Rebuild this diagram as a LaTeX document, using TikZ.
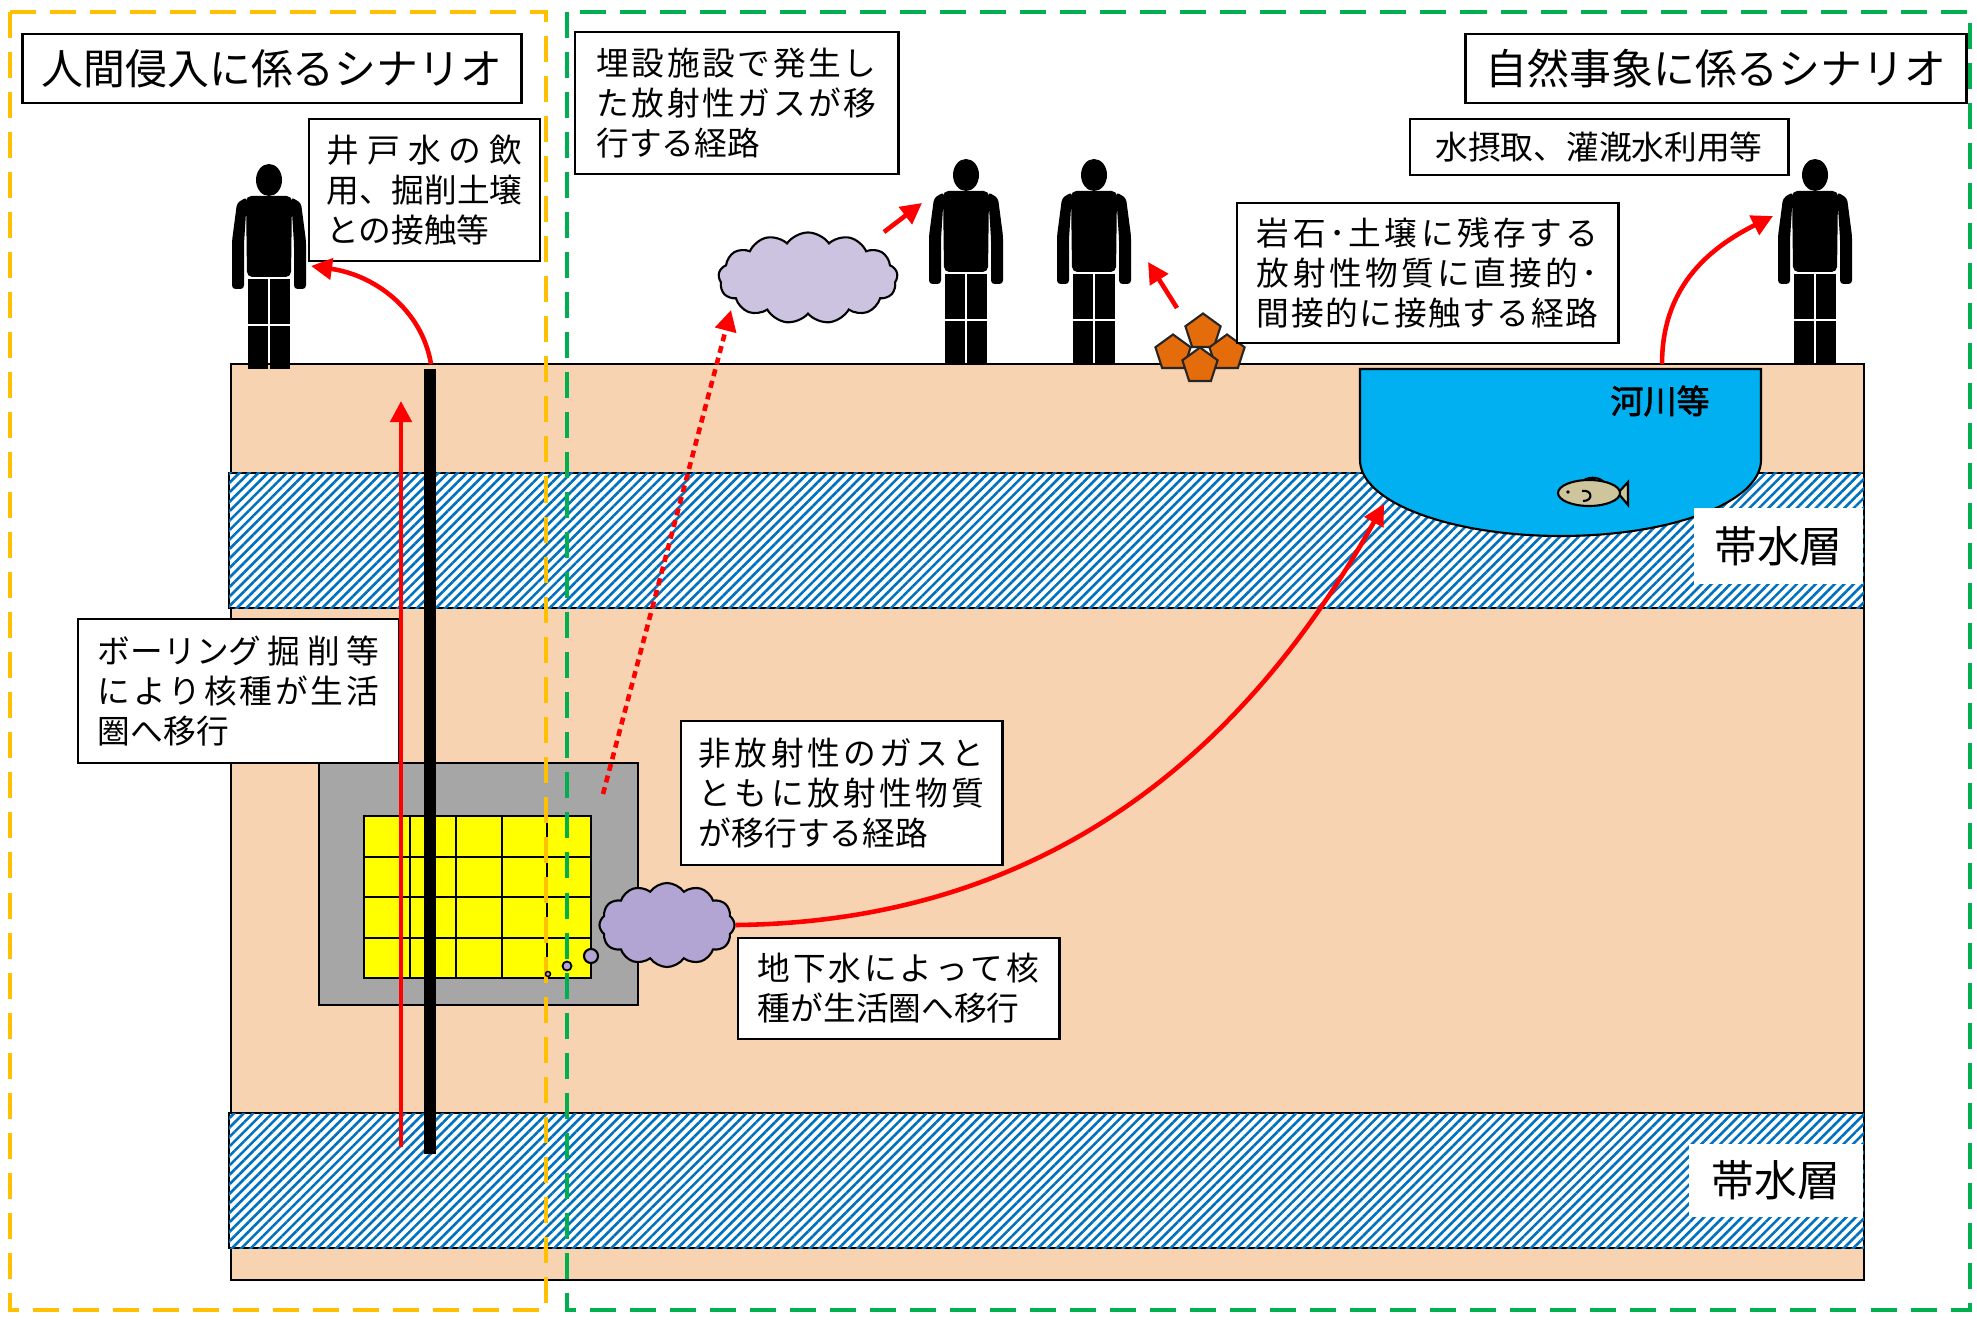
\documentclass[tikz,border=0pt]{standalone}
\usepackage{fontspec}
\newfontfamily\jp[AutoFakeBold=2]{Noto Sans CJK JP}
\usetikzlibrary{arrows.meta,shapes.geometric,shapes.symbols,patterns.meta}

\definecolor{soil}{HTML}{F8D3B2}
\definecolor{aquablue}{HTML}{0070C0}
\definecolor{river}{HTML}{00B0F0}
\definecolor{waste}{HTML}{A6A6A6}
\definecolor{cell}{HTML}{FFFF00}
\definecolor{humanzone}{HTML}{FFC000}
\definecolor{naturezone}{HTML}{00B050}
\definecolor{gaslight}{HTML}{CCC3E0}
\definecolor{gasdark}{HTML}{B3A5D3}
\definecolor{rock}{HTML}{E46C0A}
\definecolor{fishskin}{HTML}{CFC59C}

% spread the characters of one line over the whole text width
\makeatletter
\def\spread@#1#2\@nil{#1\ifx\relax#2\relax\else\hfil\spread@#2\@nil\fi}
\newcommand{\spaced}[1]{\makebox[\hsize][s]{\spread@#1\@nil}}
\makeatother

\tikzset{
	person/.pic={
		\fill (0,-189) ellipse [x radius=13, y radius=16];
		\fill[rounded corners=1.5pt] (-23,-173) -- (23,-173) -- (22,-92) -- (-22,-92) -- cycle;
		\fill[rounded corners=1pt] (-22,-172) -- (-32,-166) -- (-37,-128) -- (-37,-80) -- (-25,-80) -- (-25,-125) -- cycle;
		\fill[rounded corners=1pt] (22,-172) -- (32,-166) -- (37,-128) -- (37,-80) -- (25,-80) -- (25,-125) -- cycle;
		\fill (-21,-90) rectangle (-1,0);
		\fill (1,-90) rectangle (21,0);
		\draw[white, line width=0.4pt] (-21,-91) -- (21,-91) (-21,-44) -- (21,-44);
	}
}

\begin{document}
\begin{tikzpicture}[x=0.01cm, y=-0.01cm, font=\jp,
	tag/.style={draw, line width=0.8pt, fill=white, inner sep=0pt, align=left, font=\jp\fontsize{9.3}{11.4}\selectfont},
	heading/.style={draw, line width=0.8pt, fill=white, inner sep=0pt, font=\jp\fontsize{11.9}{14}\selectfont},
	layername/.style={fill=white, inner sep=0pt, font=\jp\fontsize{12.2}{14}\selectfont},
	route/.style={red, line width=1.3pt, -{Triangle[length=0.21cm, width=0.21cm]}},
	zone/.style={line width=0.045cm, dash pattern=on 0.26cm off 0.14cm},
	stone/.style={regular polygon, regular polygon sides=5, minimum size=0.37cm, inner sep=0pt, fill=rock, draw=black!85, line width=0.6pt},
	gascloud/.style={cloud, cloud puffs=13, cloud puff arc=110, cloud ignores aspect, draw, line width=0.6pt, inner sep=0pt}]
	\useasboundingbox (0,0) rectangle (1977,1319);
	\fill[white] (0,0) rectangle (1977,1319);

	% ground and the two aquifers
	\draw[fill=soil, line width=0.6pt] (231,364) rectangle (1864,1280);
	\foreach \lay in {473,1113}{
		\draw[fill=white, line width=0.6pt] (229,\lay) rectangle (1864,\lay+135);
		\fill[pattern={Lines[angle=45, distance=0.067cm, line width=0.026cm]}, pattern color=aquablue] (229,\lay) rectangle (1864,\lay+135);
	}

	% river with a fish
	\draw[fill=river, line width=0.6pt] (1360,369) -- (1360,460) .. controls (1360,502) and (1450,536) .. (1561,536)
		.. controls (1672,536) and (1761,502) .. (1761,460) -- (1761,369) -- cycle;
	\node[font=\jp\fontsize{9.4}{11}\selectfont\bfseries] (riverlabel) at (1660,401) {河川等};
	\begin{scope}[shift={(1589,493)}, line width=0.6pt]
		\draw[fill=fishskin] (-7,-10) .. controls (-5,-17) and (12,-17) .. (15,-10);
		\draw[fill=fishskin] (29,0) -- (39,-11) -- (39,12) -- cycle;
		\draw[fill=fishskin] (0,0) ellipse [x radius=31, y radius=13];
		\fill (-21,-1) circle [radius=1.8];
		\draw (-7,-2) .. controls (3,-4) and (5,8) .. (-6,8);
	\end{scope}
	\node[layername, minimum width=1.69cm, minimum height=0.76cm] (aquifer1) at (1778.5,546) {帯水層};
	\node[layername, minimum width=1.74cm, minimum height=0.73cm] (aquifer2) at (1776,1180.5) {帯水層};

	% disposal facility
	\draw[fill=waste, line width=0.6pt] (319,763) rectangle (638,1005);
	\draw[fill=cell, line width=0.8pt] (364,816) rectangle (591,978);
	\foreach \x in {410,456,502,547}
		\draw[line width=0.8pt] (\x,816) -- (\x,978);
	\foreach \y in {857,897,938}
		\draw[line width=0.8pt] (364,\y) -- (591,\y);

	% borehole
	\draw[line width=0.12cm] (430,369) -- (430,1154);

	% scenario frames
	\draw[zone, humanzone] (10,12) rectangle (546,1310);
	\draw[zone, naturezone] (567,12) rectangle (1970,1310);

	% gas clouds
	\node[gascloud, fill=gaslight, minimum width=1.79cm, minimum height=0.91cm] (air cloud) at (808,278) {};
	\node[gascloud, fill=gasdark, cloud puffs=12, minimum width=1.35cm, minimum height=0.84cm] (gw cloud) at (667,925) {};
	\draw[fill=gasdark, line width=0.6pt] (591,956) circle [radius=7];
	\draw[fill=gasdark, line width=0.5pt] (567,966) circle [radius=4.5];
	\draw[fill=gasdark, line width=0.4pt] (548,974) circle [radius=2.5];

	% rocks
	\node[stone] (stone1) at (1203,332) {};
	\node[stone] (stone2) at (1173,353) {};
	\node[stone] (stone3) at (1227,353) {};
	\node[stone] (stone4) at (1200,366) {};

	% people
	\pic at (269,369) {person};
	\pic at (966,364) {person};
	\pic at (1094,364) {person};
	\pic at (1815,364) {person};

	% labels
	\node[heading, minimum width=4.98cm, minimum height=0.69cm] (human) at (272,68.5) {人間侵入に係るシナリオ};
	\node[heading, minimum width=5cm, minimum height=0.69cm] (nature) at (1716,68.5) {自然事象に係るシナリオ};
	\node[tag, minimum width=2.31cm, minimum height=1.42cm, text width=1.96cm] (well) at (424.5,190)
		{\spaced{井戸水の飲}\\用、掘削土壌\\との接触等};
	\node[tag, minimum width=3.23cm, minimum height=1.42cm, text width=2.8cm] (gasroute) at (736.5,103)
		{\spaced{埋設施設で発生し}\\\spaced{た放射性ガスが移}\\行する経路};
	\node[tag, minimum width=3.81cm, minimum height=1.4cm, text width=3.41cm] (contact) at (1427.5,273)
		{\spaced{岩石･土壌に残存する}\\\spaced{放射性物質に直接的･}\\\spaced{間接的に接触する経路}};
	\node[tag, align=center, minimum width=3.78cm, minimum height=0.56cm] (intake) at (1599,147) {水摂取、灌漑水利用等};
	\node[tag, minimum width=3.21cm, minimum height=1.44cm, text width=2.81cm] (boring) at (238.5,691)
		{\makebox[\hsize][s]{ボーリング\hfil 掘\hfil 削\hfil 等}\\\spaced{により核種が生活}\\圏へ移行};
	\node[tag, minimum width=3.21cm, minimum height=1.44cm, text width=2.85cm] (nongas) at (841.5,793)
		{\spaced{非放射性のガスと}\\\spaced{ともに放射性物質}\\が移行する経路};
	\node[tag, minimum width=3.21cm, minimum height=1.01cm, text width=2.81cm] (groundwater) at (898.5,988.5)
		{\spaced{地下水によって核}\\種が生活圏へ移行};

	% migration routes
	\coordinate (bore foot) at (401,1147);
	\coordinate (bore head) at (401,401);
	\coordinate (well mouth) at (431,364);
	\coordinate (man1 side) at (311,266);
	\coordinate (leak) at (603,794);
	\coordinate (leak top) at (731,310);
	\coordinate (man2 side) at (922,203);
	\coordinate (air top) at (884,232);
	\coordinate (man3 side) at (1148,262);
	\coordinate (stone top) at (1177,308);
	\coordinate (bank) at (1662,364);
	\coordinate (man4 side) at (1773,216);
	\coordinate (river bed) at (1384,504);
	\draw[route] (bore foot) -- (bore head);
	\draw[route] (well mouth) .. controls (422,310) and (375,275) .. (man1 side);
	\draw[route, dash pattern=on 0.07cm off 0.05cm] (leak) -- (leak top);
	\draw[route] (air top) -- (man2 side);
	\draw[route] (stone top) -- (man3 side);
	\draw[route] (bank) .. controls (1662,290) and (1705,250) .. (man4 side);
	\draw[route] (gw cloud.east) .. controls (1020,922) and (1230,780) .. (river bed);
\end{tikzpicture}
\end{document}
